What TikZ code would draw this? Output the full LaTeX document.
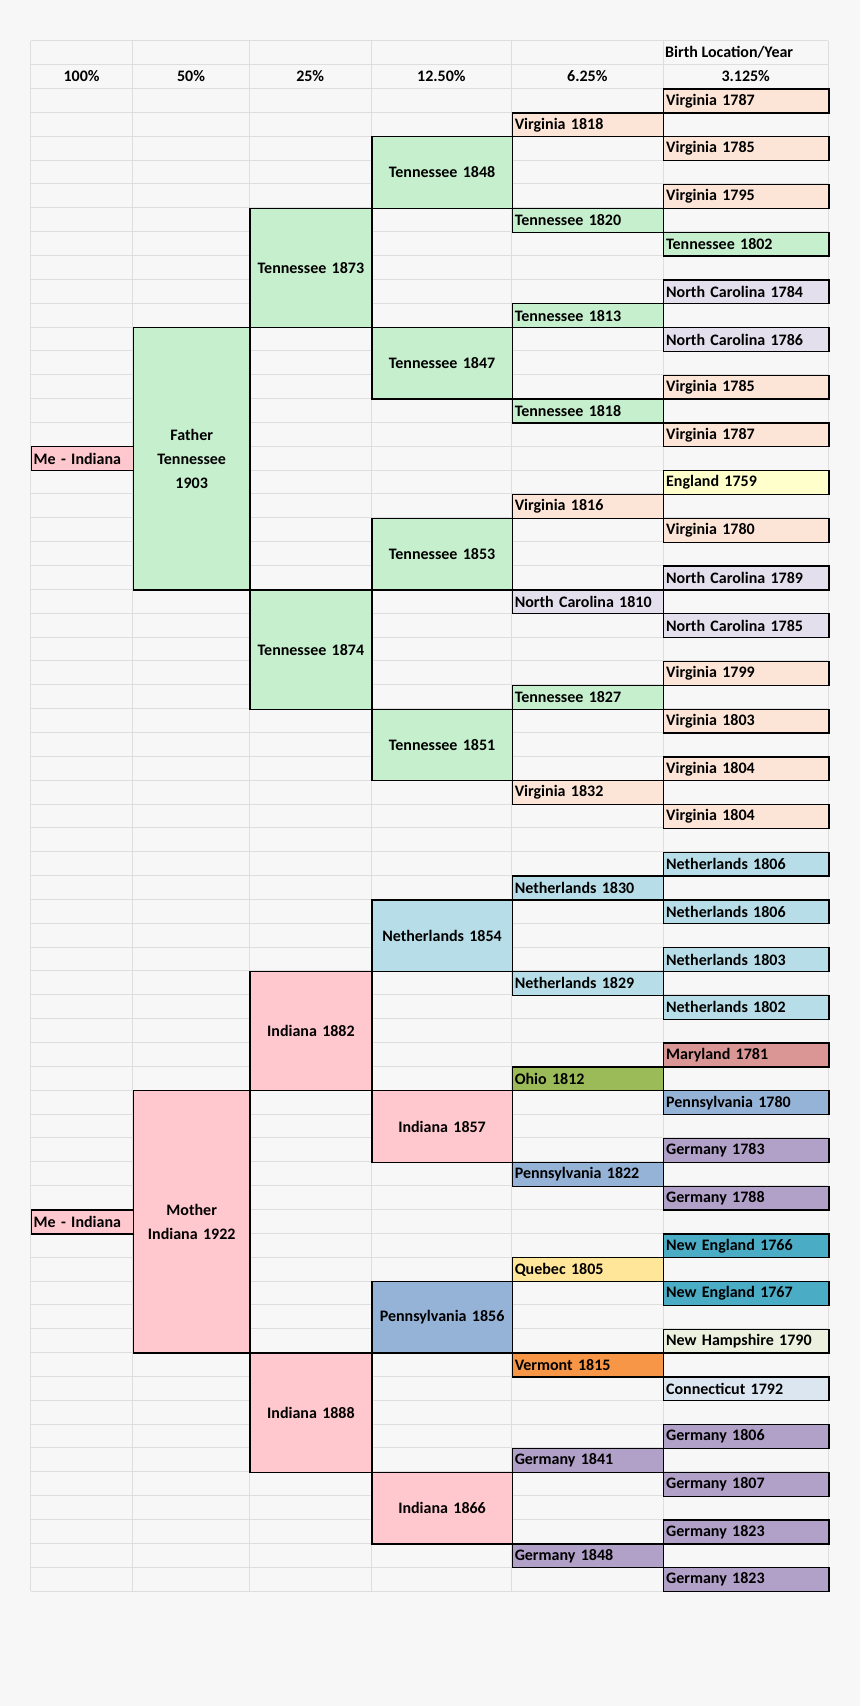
\documentclass[tikz,border=0pt]{standalone}
\usepackage{fontspec}
\setmainfont{Carlito}
\definecolor{bg}{HTML}{F7F7F7}
\definecolor{gridc}{HTML}{DEDEDE}
\definecolor{va}{HTML}{FCE4D6}
\definecolor{tn}{HTML}{C6EFCE}
\definecolor{nc}{HTML}{E4DFEC}
\definecolor{en}{HTML}{FFFFCC}
\definecolor{nl}{HTML}{B7DEE8}
\definecolor{in}{HTML}{FFC7CE}
\definecolor{md}{HTML}{DA9694}
\definecolor{oh}{HTML}{9BBB59}
\definecolor{pa}{HTML}{95B3D7}
\definecolor{de}{HTML}{B1A0C7}
\definecolor{ne}{HTML}{4BACC6}
\definecolor{qc}{HTML}{FFE699}
\definecolor{nh}{HTML}{EBF1DE}
\definecolor{vt}{HTML}{F79646}
\definecolor{ct}{HTML}{DCE6F1}
\tikzset{cellbox/.style={draw=black,line width=1.3pt,inner xsep=2.5pt,inner ysep=0pt,anchor=north west,font=\bfseries\fontsize{16}{24}\selectfont}}
\def\xc{{30.5,132.8,249.3,371.2,511.6,663,828.4}}
\newcommand\mycell[6]{%
\pgfmathsetmacro\xa{\xc[#1]}\pgfmathsetmacro\xb{\xc[#1+1]}%
\pgfmathsetmacro\ya{-(40.7+23.85*(#2+1))}\pgfmathsetmacro\hh{23.85*(#3-#2+1)}%
\pgfmathsetmacro\ww{\xb-\xa-5}%
\node[cellbox,fill=#4,text width=\ww pt,align=#5,minimum height=\hh pt] (c#1r#2) at (\xa pt,\ya pt) {#6};}
\begin{document}
\begin{tikzpicture}
\fill[bg] (0,0) rectangle (860pt,-1706pt);
\useasboundingbox (0,0) rectangle (860pt,-1706pt);
\foreach \r in {0,...,65}{\draw[gridc,line width=0.8pt] (30.5pt,{-(40.7+23.85*\r)*1pt}) -- (828.4pt,{-(40.7+23.85*\r)*1pt});}
\foreach \x in {30.5,132.8,249.3,371.2,511.6,663,828.4}{\draw[gridc,line width=0.8pt] (\x pt,-40.7pt) -- (\x pt,{-(40.7+23.85*65)*1pt});}
% headers
\begin{scope}[every node/.style={font=\bfseries\fontsize{16}{19}\selectfont,anchor=center}]
\node (h0) at (81.6pt,-76.5pt) {100\%};
\node (h1) at (191pt,-76.5pt) {50\%};
\node (h2) at (310.2pt,-76.5pt) {25\%};
\node (h3) at (441.4pt,-76.5pt) {12.50\%};
\node (h4) at (587.3pt,-76.5pt) {6.25\%};
\node (h5) at (745.7pt,-76.5pt) {3.125\%};
\node[anchor=west,inner xsep=1pt] (hb) at (664pt,-52.6pt) {Birth Location/Year};
\end{scope}
% father side
\mycell{0}{16}{16}{in}{left}{Me - Indiana}
\mycell{1}{11}{21}{tn}{center}{Father\\Tennessee\\1903}
\mycell{2}{6}{10}{tn}{center}{Tennessee 1873}
\mycell{2}{22}{26}{tn}{center}{Tennessee 1874}
\mycell{3}{3}{5}{tn}{center}{Tennessee 1848}
\mycell{3}{11}{13}{tn}{center}{Tennessee 1847}
\mycell{3}{19}{21}{tn}{center}{Tennessee 1853}
\mycell{3}{27}{29}{tn}{center}{Tennessee 1851}
\mycell{4}{2}{2}{va}{left}{Virginia 1818}
\mycell{4}{6}{6}{tn}{left}{Tennessee 1820}
\mycell{4}{10}{10}{tn}{left}{Tennessee 1813}
\mycell{4}{14}{14}{tn}{left}{Tennessee 1818}
\mycell{4}{18}{18}{va}{left}{Virginia 1816}
\mycell{4}{22}{22}{nc}{left}{North Carolina 1810}
\mycell{4}{26}{26}{tn}{left}{Tennessee 1827}
\mycell{4}{30}{30}{va}{left}{Virginia 1832}
\mycell{5}{1}{1}{va}{left}{Virginia 1787}
\mycell{5}{3}{3}{va}{left}{Virginia 1785}
\mycell{5}{5}{5}{va}{left}{Virginia 1795}
\mycell{5}{7}{7}{tn}{left}{Tennessee 1802}
\mycell{5}{9}{9}{nc}{left}{North Carolina 1784}
\mycell{5}{11}{11}{nc}{left}{North Carolina 1786}
\mycell{5}{13}{13}{va}{left}{Virginia 1785}
\mycell{5}{15}{15}{va}{left}{Virginia 1787}
\mycell{5}{17}{17}{en}{left}{England 1759}
\mycell{5}{19}{19}{va}{left}{Virginia 1780}
\mycell{5}{21}{21}{nc}{left}{North Carolina 1789}
\mycell{5}{23}{23}{nc}{left}{North Carolina 1785}
\mycell{5}{25}{25}{va}{left}{Virginia 1799}
\mycell{5}{27}{27}{va}{left}{Virginia 1803}
\mycell{5}{29}{29}{va}{left}{Virginia 1804}
\mycell{5}{31}{31}{va}{left}{Virginia 1804}
% mother side
\mycell{0}{48}{48}{in}{left}{Me - Indiana}
\mycell{1}{43}{53}{in}{center}{Mother\\Indiana 1922}
\mycell{2}{38}{42}{in}{center}{Indiana 1882}
\mycell{2}{54}{58}{in}{center}{Indiana 1888}
\mycell{3}{35}{37}{nl}{center}{Netherlands 1854}
\mycell{3}{43}{45}{in}{center}{Indiana 1857}
\mycell{3}{51}{53}{pa}{center}{Pennsylvania 1856}
\mycell{3}{59}{61}{in}{center}{Indiana 1866}
\mycell{4}{34}{34}{nl}{left}{Netherlands 1830}
\mycell{4}{38}{38}{nl}{left}{Netherlands 1829}
\mycell{4}{42}{42}{oh}{left}{Ohio 1812}
\mycell{4}{46}{46}{pa}{left}{Pennsylvania 1822}
\mycell{4}{50}{50}{qc}{left}{Quebec 1805}
\mycell{4}{54}{54}{vt}{left}{Vermont 1815}
\mycell{4}{58}{58}{de}{left}{Germany 1841}
\mycell{4}{62}{62}{de}{left}{Germany 1848}
\mycell{5}{33}{33}{nl}{left}{Netherlands 1806}
\mycell{5}{35}{35}{nl}{left}{Netherlands 1806}
\mycell{5}{37}{37}{nl}{left}{Netherlands 1803}
\mycell{5}{39}{39}{nl}{left}{Netherlands 1802}
\mycell{5}{41}{41}{md}{left}{Maryland 1781}
\mycell{5}{43}{43}{pa}{left}{Pennsylvania 1780}
\mycell{5}{45}{45}{de}{left}{Germany 1783}
\mycell{5}{47}{47}{de}{left}{Germany 1788}
\mycell{5}{49}{49}{ne}{left}{New England 1766}
\mycell{5}{51}{51}{ne}{left}{New England 1767}
\mycell{5}{53}{53}{nh}{left}{New Hampshire 1790}
\mycell{5}{55}{55}{ct}{left}{Connecticut 1792}
\mycell{5}{57}{57}{de}{left}{Germany 1806}
\mycell{5}{59}{59}{de}{left}{Germany 1807}
\mycell{5}{61}{61}{de}{left}{Germany 1823}
\mycell{5}{63}{63}{de}{left}{Germany 1823}
\end{tikzpicture}
\end{document}
